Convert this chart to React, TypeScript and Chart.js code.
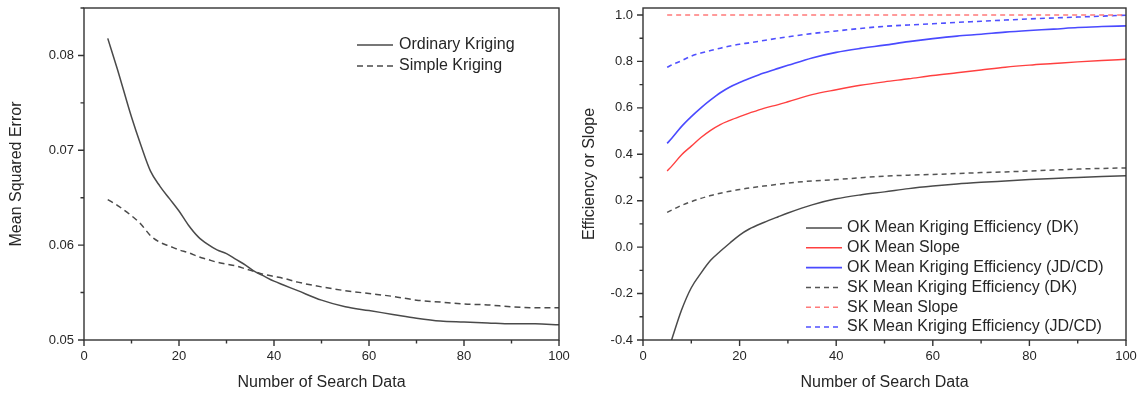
import { useEffect, useRef } from 'react';
import { Chart, registerables } from 'chart.js';

Chart.register(...registerables);

// ---------- Left chart data ----------
const leftX = [5, 7, 10, 12, 14, 16, 18, 20, 22, 24, 26, 28, 30, 32, 34, 36, 38, 40, 42, 45, 50, 55, 60, 65, 70, 75, 80, 85, 90, 95, 100];
const ordinaryMSE = [0.0818, 0.0786, 0.0735, 0.0705, 0.0678, 0.0662, 0.0649, 0.0636, 0.0621, 0.0609, 0.0601, 0.0595, 0.0591, 0.0585, 0.0579, 0.0572, 0.0567, 0.0562, 0.0558, 0.0552, 0.0542, 0.0535, 0.0531, 0.0527, 0.0523, 0.0520, 0.0519, 0.0518, 0.0517, 0.0517, 0.0516];
const simpleMSE = [0.0648, 0.0642, 0.0631, 0.0622, 0.0610, 0.0603, 0.0599, 0.0595, 0.0592, 0.0588, 0.0585, 0.0582, 0.0580, 0.0578, 0.0575, 0.0572, 0.0569, 0.0567, 0.0565, 0.0561, 0.0556, 0.0552, 0.0549, 0.0546, 0.0542, 0.0540, 0.0538, 0.0537, 0.0535, 0.0534, 0.0534];

// ---------- Right chart data ----------
const rightX = [5, 6, 8, 10, 12, 14, 16, 18, 20, 22, 25, 28, 30, 35, 40, 45, 50, 55, 60, 65, 70, 75, 80, 85, 90, 95, 100];
const okEffDK = [-0.46, -0.395, -0.27, -0.175, -0.112, -0.057, -0.018, 0.018, 0.052, 0.078, 0.106, 0.131, 0.147, 0.182, 0.208, 0.225, 0.238, 0.252, 0.263, 0.272, 0.279, 0.285, 0.291, 0.296, 0.300, 0.304, 0.308];
const okSlope = [0.328, 0.35, 0.398, 0.435, 0.472, 0.503, 0.528, 0.546, 0.562, 0.577, 0.598, 0.614, 0.626, 0.657, 0.678, 0.697, 0.712, 0.725, 0.739, 0.751, 0.763, 0.775, 0.784, 0.791, 0.798, 0.804, 0.809];
const okEffJD = [0.447, 0.47, 0.52, 0.562, 0.600, 0.634, 0.665, 0.690, 0.709, 0.726, 0.750, 0.770, 0.783, 0.815, 0.839, 0.856, 0.870, 0.885, 0.898, 0.909, 0.917, 0.926, 0.933, 0.939, 0.946, 0.950, 0.953];
const skEffDK = [0.150, 0.160, 0.180, 0.196, 0.210, 0.222, 0.232, 0.241, 0.248, 0.255, 0.263, 0.271, 0.276, 0.285, 0.291, 0.299, 0.306, 0.310, 0.313, 0.317, 0.321, 0.324, 0.328, 0.332, 0.336, 0.339, 0.341];
const skSlope = [1, 1, 1, 1, 1, 1, 1, 1, 1, 1, 1, 1, 1, 1, 1, 1, 1, 1, 1, 1, 1, 1, 1, 1, 1, 1, 1];
const skEffJD = [0.775, 0.785, 0.803, 0.823, 0.836, 0.847, 0.857, 0.866, 0.874, 0.880, 0.890, 0.900, 0.906, 0.920, 0.931, 0.942, 0.951, 0.957, 0.962, 0.968, 0.973, 0.978, 0.983, 0.987, 0.991, 0.995, 0.999];

// ---------- Ticks ----------
const xMajorTicks = [0, 20, 40, 60, 80, 100];
const xMinorTicks = [10, 30, 50, 70, 90];
const leftYMajorTicks = [0.05, 0.06, 0.07, 0.08];
const leftYMinorTicks = [0.055, 0.065, 0.075, 0.085];
const rightYMajorTicks = [-0.4, -0.2, 0.0, 0.2, 0.4, 0.6, 0.8, 1.0];
const rightYMinorTicks = [-0.3, -0.1, 0.1, 0.3, 0.5, 0.7, 0.9];

const FONT = "'Liberation Sans', Arial, Helvetica, sans-serif";
const TEXT = '#262626';
const AXIS = '#333333';

const pts = (xs: number[], ys: number[]) => xs.map((x, i) => ({ x, y: ys[i] }));

const framePlugin = {
  id: 'originFrame',
  afterDraw(chart: any, _args: any, opts: any) {
    const { ctx, chartArea: a, scales } = chart;
    const xs = scales.x;
    const ys = scales.y;
    ctx.save();
    ctx.strokeStyle = AXIS;
    ctx.lineWidth = 1.4;
    ctx.setLineDash([]);
    ctx.strokeRect(a.left, a.top, a.right - a.left, a.bottom - a.top);
    ctx.beginPath();
    const major = 6;
    const minor = 3.5;
    for (const v of opts.xMajor) {
      const p = xs.getPixelForValue(v);
      ctx.moveTo(p, a.bottom);
      ctx.lineTo(p, a.bottom + major);
    }
    for (const v of opts.xMinor) {
      const p = xs.getPixelForValue(v);
      ctx.moveTo(p, a.bottom);
      ctx.lineTo(p, a.bottom + minor);
    }
    for (const v of opts.yMajor) {
      const p = ys.getPixelForValue(v);
      ctx.moveTo(a.left, p);
      ctx.lineTo(a.left - major, p);
    }
    for (const v of opts.yMinor) {
      const p = ys.getPixelForValue(v);
      ctx.moveTo(a.left, p);
      ctx.lineTo(a.left - minor, p);
    }
    ctx.stroke();
    ctx.restore();
  },
};

const legendPlugin = {
  id: 'boxLegend',
  afterDraw(chart: any, _args: any, opts: any) {
    const { ctx } = chart;
    ctx.save();
    ctx.font = `16px ${FONT}`;
    ctx.textBaseline = 'middle';
    ctx.textAlign = 'left';
    chart.data.datasets.forEach((ds: any, i: number) => {
      const yy = opts.y + i * opts.rowH;
      ctx.strokeStyle = ds.borderColor;
      ctx.lineWidth = ds.borderWidth;
      ctx.setLineDash(ds.borderDash || []);
      ctx.beginPath();
      ctx.moveTo(opts.x, yy);
      ctx.lineTo(opts.x + opts.lineLen, yy);
      ctx.stroke();
      ctx.setLineDash([]);
      ctx.fillStyle = TEXT;
      ctx.fillText(ds.label, opts.x + opts.lineLen + opts.gap, yy);
    });
    ctx.restore();
  },
};

function makeOptions(cfg: any) {
  return {
    responsive: false,
    animation: false,
    events: [],
    layout: { padding: { left: 0, top: 8, right: cfg.padRight, bottom: 0 } },
    plugins: {
      legend: { display: false },
      title: { display: false },
      tooltip: { enabled: false },
      originFrame: cfg.frame,
      boxLegend: cfg.legend,
    },
    elements: { point: { radius: 0 } },
    scales: {
      x: {
        type: 'linear',
        position: 'bottom',
        min: 0,
        max: 100,
        grid: { display: false, drawTicks: false },
        border: { display: false },
        afterBuildTicks: (s: any) => {
          s.ticks = xMajorTicks.map((v) => ({ value: v }));
        },
        afterFit: (s: any) => {
          s.height = 56;
          s.paddingLeft = 0;
          s.paddingRight = 0;
        },
        ticks: {
          padding: 9,
          color: TEXT,
          font: { family: FONT, size: 13 },
          maxRotation: 0,
          callback: (v: any) => String(v),
        },
        title: {
          display: true,
          text: 'Number of Search Data',
          color: TEXT,
          font: { family: FONT, size: 16 },
          padding: { top: 0, bottom: 4 },
        },
      },
      y: {
        type: 'linear',
        position: 'left',
        min: cfg.yMin,
        max: cfg.yMax,
        grid: { display: false, drawTicks: false },
        border: { display: false },
        afterBuildTicks: (s: any) => {
          s.ticks = cfg.yTicks.map((v: number) => ({ value: v }));
        },
        afterFit: (s: any) => {
          s.width = cfg.yWidth;
          s.paddingTop = 0;
          s.paddingBottom = 0;
        },
        ticks: {
          padding: 10,
          color: TEXT,
          font: { family: FONT, size: 13 },
          callback: (v: any) => Number(v).toFixed(cfg.decimals),
        },
        title: {
          display: true,
          text: cfg.yTitle,
          color: TEXT,
          font: { family: FONT, size: 16 },
          padding: { top: cfg.yTitlePad, bottom: 0 },
        },
      },
    },
  };
}

function line(label: string, xs: number[], ys: number[], color: string, width: number, dash: number[]) {
  return {
    label,
    data: pts(xs, ys),
    borderColor: color,
    backgroundColor: color,
    borderWidth: width,
    borderDash: dash,
    fill: false,
    pointRadius: 0,
    cubicInterpolationMode: 'monotone',
  };
}

export default function App() {
  const leftRef = useRef<HTMLCanvasElement>(null);
  const rightRef = useRef<HTMLCanvasElement>(null);

  useEffect(() => {
    document.body.style.margin = '0';
    const left = new Chart(leftRef.current as HTMLCanvasElement, {
      type: 'line',
      data: {
        datasets: [
          line('Ordinary Kriging', leftX, ordinaryMSE, '#4a4a4a', 1.5, []),
          line('Simple Kriging', leftX, simpleMSE, '#4a4a4a', 1.5, [6, 4]),
        ],
      },
      options: makeOptions({
        padRight: 11,
        yMin: 0.05,
        yMax: 0.085,
        yTicks: leftYMajorTicks,
        yWidth: 84,
        decimals: 2,
        yTitle: 'Mean Squared Error',
        yTitlePad: 7,
        frame: { xMajor: xMajorTicks, xMinor: xMinorTicks, yMajor: leftYMajorTicks, yMinor: leftYMinorTicks },
        legend: { x: 357, y: 45, rowH: 21, lineLen: 36, gap: 6 },
      }) as any,
      plugins: [framePlugin, legendPlugin],
    } as any);

    const right = new Chart(rightRef.current as HTMLCanvasElement, {
      type: 'line',
      data: {
        datasets: [
          line('OK Mean Kriging Efficiency (DK)', rightX, okEffDK, '#4a4a4a', 1.5, []),
          line('OK Mean Slope', rightX, okSlope, '#ff4040', 1.4, []),
          line('OK Mean Kriging Efficiency (JD/CD)', rightX, okEffJD, '#4a4aff', 1.6, []),
          line('SK Mean Kriging Efficiency (DK)', rightX, skEffDK, '#555555', 1.5, [5, 4]),
          line('SK Mean Slope', rightX, skSlope, '#ff7a7a', 1.5, [5, 4]),
          line('SK Mean Kriging Efficiency (JD/CD)', rightX, skEffJD, '#5050ff', 1.6, [5, 4]),
        ],
      },
      options: makeOptions({
        padRight: 12,
        yMin: -0.4,
        yMax: 1.03,
        yTicks: rightYMajorTicks,
        yWidth: 73,
        decimals: 1,
        yTitle: 'Efficiency or Slope',
        yTitlePad: 10,
        frame: { xMajor: xMajorTicks, xMinor: xMinorTicks, yMajor: rightYMajorTicks, yMinor: rightYMinorTicks },
        legend: { x: 236, y: 228, rowH: 19.8, lineLen: 36, gap: 5 },
      }) as any,
      plugins: [framePlugin, legendPlugin],
    } as any);

    return () => {
      left.destroy();
      right.destroy();
    };
  }, []);

  return (
    <div style={{ position: 'relative', width: 1138, height: 396, background: '#fff' }}>
      <canvas ref={leftRef} width={570} height={396} style={{ position: 'absolute', left: 0, top: 0 }} />
      <canvas ref={rightRef} width={568} height={396} style={{ position: 'absolute', left: 570, top: 0 }} />
    </div>
  );
}
